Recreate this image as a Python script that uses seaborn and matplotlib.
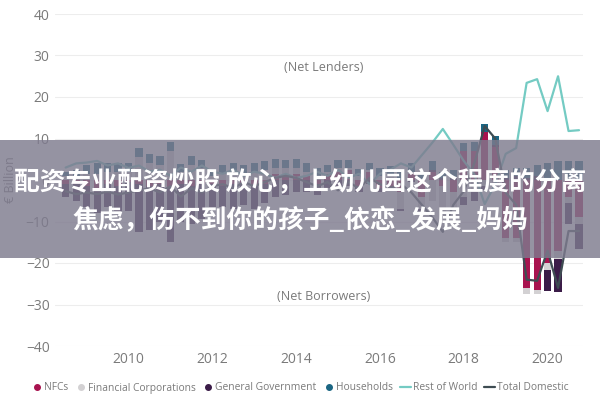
import numpy as np
import pandas as pd
import seaborn as sns
import matplotlib.pyplot as plt
from matplotlib.patches import Rectangle
from matplotlib.lines import Line2D

# Quarterly, 2008 Q3 to 2020 Q4
quarters = pd.period_range('2008Q3', '2020Q4', freq='Q')
x_pos = quarters.year + (quarters.quarter - 1) / 4.0

nfc = [-1.0, -1.0, -1.5, -2.0, -1.0, -1.5,
       -0.5, -1.0, -1.5, -1.0, -2.0, -1.0, -1.5, -1.0,
       -1.0, -1.5, -1.0, -1.0, -1.5, -1.0, 1.5, 1.0,
       1.5, 1.0, -1.0, 1.5, 2.0, 2.5, -1.5, 2.0, -2.0, -1.5, -3.0, 1.5,
       -4.0, 2.0, -1.5, -3.0, 7.0, 7.0, 11.5, 8.0,
       -14.0, -14.0, -26.0, -26.5, -20.0, -17.0, -4.0, -9.0]
fin = [1.0, 1.0, 1.5, 1.5, 2.0, 2.0,
       2.0, 5.5, 4.0, 3.5, 7.0, 2.0, 3.5, 3.0,
       1.0, 1.5, 2.0, 1.5, 2.0, 2.5, 1.5, 2.0,
       1.5, 1.0, 1.0, 0.5, 1.0, 0.5, 1.0, 0.5, 1.0, 1.5, -4.0, 0.5,
       -3.0, -5.0, -10.0, -4.0, -4.0, -3.0, -1.5, -2.0,
       -1.0, -1.0, -1.5, -1.0, -1.7, -2.0, -1.6, -1.6]
gov = [-3.0, -4.0, -5.0, -6.0, -5.5, -6.0,
       -7.0, -11.5, -10.5, -9.0, -13.0, -9.0, -9.0, -8.5,
       -5.5, -5.0, -6.0, -5.0, -5.5, -4.5, -4.0, -3.5,
       -3.0, -3.0, -2.5, -2.0, -2.0, -1.5, -1.5, -1.0, -1.0, -1.0, -0.5, -0.5,
       -0.5, 0.5, 0.5, 0.5, -2.0, -2.0, -1.0, 0.5,
       0.5, 1.0, 0.5, 1.0, -5.0, -8.0, -5.0, -6.0]
households = [1.0, 1.5, 2.0, 2.5, 2.0, 2.0,
              2.0, 2.2, 2.2, 2.3, 2.2, 1.8, 2.3, 1.8,
              1.6, 2.0, 2.0, 2.0, 2.0, 2.1, 2.0, 1.8,
              2.0, 2.0, 1.8, 1.7, 1.8, 1.8, 1.6, 1.7, 1.8, 1.8, 2.0, 2.0,
              2.0, 2.0, 1.5, 2.0, 2.0, 2.2, 2.0, 2.0,
              2.0, 2.0, 2.5, 2.5, 4.0, 4.5, 4.5, 4.5]
rest_of_world = [3.0, 4.0, 4.2, 4.6, 3.5, 4.0,
                 2.9, 3.5, 2.0, 2.5, 1.0, 3.0, 2.0, 3.5,
                 2.0, 1.5, 2.5, 1.0, 2.0, 1.5, 0.5, 1.5,
                 0.5, 1.0, 2.0, 1.0, 2.5, 0.5, 1.5, -1.0, 1.5, 2.5, 4.0, 3.0,
                 6.0, 9.0, 12.3, 8.5, 4.6, 1.4, -5.8, -1.0,
                 6.3, 7.7, 23.4, 24.3, 16.6, 25.0, 11.8, 12.0]
total_domestic = [-2.7, -3.4, -3.0, -3.4, -2.8, -3.5,
                  -3.0, -2.5, -2.0, -3.0, -1.5, -4.0, -2.0, -3.0,
                  -1.5, -1.0, -2.0, -0.5, -1.5, -0.5, 0.5, 1.0,
                  0.5, -0.5, -1.5, -0.5, -2.5, -0.5, -2.0, 0.5, -1.0, -2.0, -1.0, -3.0,
                  -6.0, -9.0, -12.5, -6.0, -2.7, 4.0, 13.0, 10.0,
                  -3.0, -6.0, -24.0, -24.3, -17.0, -26.0, -12.3, -12.3]

sectors = ['NFCs', 'Financial Corporations', 'General Government', 'Households']
colores = ['#A8134F', '#D3D1D3', '#3B1C48', '#1B6683']
valores = [nfc, fin, gov, households]

sns.set_theme(style='whitegrid')
plt.rcParams['font.family'] = ['Open Sans', 'DejaVu Sans']

fig = plt.figure(figsize=(6, 4), dpi=100)
ax = fig.add_axes([0.092, 0.135, 0.88, 0.83])

# Barras empilhadas (positivos para cima, negativos para baixo)
base_pos = np.zeros(len(x_pos))
base_neg = np.zeros(len(x_pos))
for nome, cor, vals in zip(sectors, colores, valores):
    v = np.array(vals)
    pos = np.where(v > 0, v, 0)
    neg = np.where(v < 0, v, 0)
    ax.bar(x_pos, pos, bottom=base_pos, width=0.17, color=cor, linewidth=0, zorder=2)
    ax.bar(x_pos, neg, bottom=base_neg, width=0.17, color=cor, linewidth=0, zorder=2)
    base_pos += pos
    base_neg += neg

df_linhas = pd.DataFrame({'x': x_pos, 'Rest of World': rest_of_world,
                          'Total Domestic': total_domestic})
sns.lineplot(data=df_linhas, x='x', y='Rest of World', color='#74CBC3', linewidth=1.6, ax=ax, zorder=3)
sns.lineplot(data=df_linhas, x='x', y='Total Domestic', color='#3E4C52', linewidth=1.6, ax=ax, zorder=3)

ax.set_xlim(2008.25, 2020.85)
ax.set_ylim(-40, 40)
ax.set_yticks(range(-40, 41, 10))
ax.set_xticks(range(2010, 2021, 2))
ax.grid(axis='x', visible=False)
ax.grid(axis='y', color='#EDEDED', linewidth=0.8)
ax.set_facecolor('white')
for s in ax.spines.values():
    s.set_visible(False)
ax.tick_params(axis='both', colors='#7A7A7A', labelsize=10, length=0, pad=4)
ax.set_xlabel('')
ax.set_ylabel('€ Billion', color='#7A7A7A', fontsize=9, labelpad=6)

ax.text(2014.65, 27, '(Net Lenders)', color='#7A7A7A', fontsize=9, ha='center', va='center')
ax.text(2014.65, -28, '(Net Borrowers)', color='#7A7A7A', fontsize=9, ha='center', va='center')

handles = [Line2D([], [], marker='o', linestyle='', color=c, markersize=4) for c in colores]
handles += [Line2D([], [], color='#74CBC3', linewidth=1.6),
            Line2D([], [], color='#3E4C52', linewidth=1.6)]
labels = sectors + ['Rest of World', 'Total Domestic']
fig.legend(handles, labels, loc='center', bbox_to_anchor=(0.5, 0.03), ncol=6, frameon=False,
           fontsize=7.4, labelcolor='#7A7A7A', handlelength=1.0, handletextpad=0.2,
           columnspacing=0.7)

# Faixa com texto por cima do gráfico
fig.add_artist(Rectangle((0, 0.355), 1, 0.295, transform=fig.transFigure,
                         facecolor='#7E7B8E', alpha=0.82, edgecolor='none', zorder=10))
fonte_cjk = ['Noto Sans CJK SC', 'DejaVu Sans']
fig.text(0.5, 0.5425, '配资专业配资炒股 放心，上幼儿园这个程度的分离', ha='center', va='center',
         color='white', fontsize=18.5, fontweight='bold', family=fonte_cjk, zorder=11)
fig.text(0.5, 0.45, '焦虑，伤不到你的孩子_依恋_发展_妈妈', ha='center', va='center',
         color='white', fontsize=18.5, fontweight='bold', family=fonte_cjk, zorder=11)

plt.savefig('out.png', dpi=100)
plt.close()
